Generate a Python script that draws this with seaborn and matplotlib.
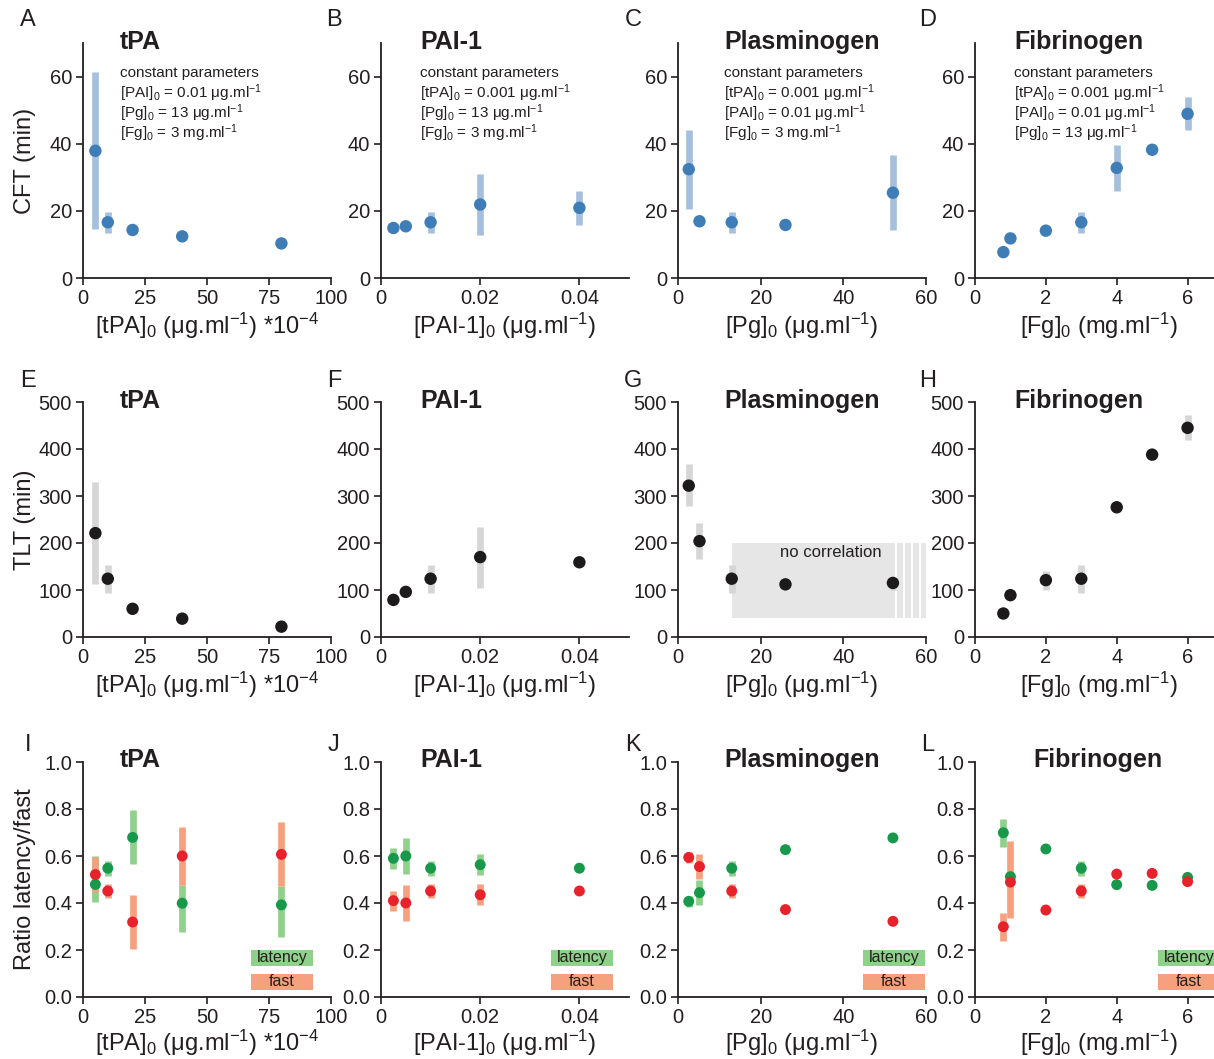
import numpy as np
import pandas as pd
import matplotlib
matplotlib.use("Agg")
import matplotlib.pyplot as plt
from matplotlib.patches import Rectangle
import seaborn as sns

nan = np.nan

# ---- concentrations on the x axes ----
tpa_conc = [5, 10, 20, 40, 80]                 # [tPA]0 in µg/ml *1e-4
pai_conc = [0.0025, 0.005, 0.01, 0.02, 0.04]   # [PAI-1]0 in µg/ml
pg_conc = [2.6, 5.2, 13, 26, 52]               # [Pg]0 in µg/ml
fg_conc = [0.8, 1, 2, 3, 4, 5, 6]              # [Fg]0 in mg/ml

# ---- clot formation time (min): mean, lower, upper ----
cft_tpa = [37.9, 16.6, 14.3, 12.4, 10.3]
cft_tpa_lo = [14.6, 13.4, nan, nan, nan]
cft_tpa_hi = [61.3, 19.8, nan, nan, nan]
cft_pai = [14.9, 15.4, 16.6, 21.9, 20.9]
cft_pai_lo = [nan, nan, 13.4, 12.8, 15.9]
cft_pai_hi = [nan, nan, 19.8, 31.0, 26.0]
cft_pg = [32.4, 16.9, 16.6, 15.8, 25.4]
cft_pg_lo = [20.7, nan, 13.4, nan, 14.3]
cft_pg_hi = [44.0, nan, 19.8, nan, 36.6]
cft_fg = [7.7, 11.8, 14.1, 16.6, 32.8, 38.2, 48.9]
cft_fg_lo = [nan, nan, nan, 13.4, 26.0, nan, 44.0]
cft_fg_hi = [nan, nan, nan, 19.8, 39.7, nan, 53.8]

# ---- total lysis time (min) ----
tlt_tpa = [221, 124, 60, 39, 22]
tlt_tpa_lo = [113, 94, nan, nan, nan]
tlt_tpa_hi = [330, 154, nan, nan, nan]
tlt_pai = [79, 96, 124, 170, 159]
tlt_pai_lo = [nan, nan, 94, 105, nan]
tlt_pai_hi = [nan, nan, 154, 235, nan]
tlt_pg = [322, 204, 124, 112, 115]
tlt_pg_lo = [279, 167, 94, nan, 100]
tlt_pg_hi = [368, 242, 154, nan, 126]
tlt_fg = [50, 89, 121, 124, 276, 388, 445]
tlt_fg_lo = [nan, nan, 101, 94, nan, nan, 420]
tlt_fg_hi = [nan, nan, 141, 154, nan, nan, 473]

# ---- ratio of latency phase / fast phase ----
lat_tpa = [0.479, 0.548, 0.679, 0.399, 0.392]
lat_tpa_lo = [0.403, 0.516, 0.565, 0.275, 0.257]
lat_tpa_hi = [0.599, 0.580, 0.797, 0.475, 0.471]
fast_tpa = [0.521, 0.451, 0.319, 0.600, 0.607]
fast_tpa_lo = [0.447, 0.420, 0.203, 0.475, 0.471]
fast_tpa_hi = [0.597, 0.482, 0.435, 0.725, 0.743]

lat_pai = [0.590, 0.600, 0.548, 0.563, 0.548]
lat_pai_lo = [0.546, 0.523, 0.516, 0.518, nan]
lat_pai_hi = [0.633, 0.675, 0.580, 0.609, nan]
fast_pai = [0.410, 0.400, 0.451, 0.435, 0.451]
fast_pai_lo = [0.366, 0.323, 0.420, 0.390, nan]
fast_pai_hi = [0.452, 0.475, 0.482, 0.482, nan]

lat_pg = [0.407, 0.444, 0.548, 0.627, 0.677]
lat_pg_lo = [0.383, 0.391, 0.516, nan, nan]
lat_pg_hi = [0.431, 0.496, 0.580, nan, nan]
fast_pg = [0.594, 0.555, 0.451, 0.372, 0.322]
fast_pg_lo = [0.570, 0.502, 0.420, nan, nan]
fast_pg_hi = [0.617, 0.609, 0.482, nan, nan]

lat_fg = [0.699, 0.512, 0.630, 0.548, 0.478, 0.475, 0.509]
lat_fg_lo = [0.640, 0.490, nan, 0.516, nan, nan, nan]
lat_fg_hi = [0.759, 0.530, nan, 0.580, nan, nan, nan]
fast_fg = [0.299, 0.489, 0.370, 0.451, 0.523, 0.526, 0.491]
fast_fg_lo = [0.240, 0.335, nan, 0.420, nan, nan, nan]
fast_fg_hi = [0.359, 0.662, nan, 0.482, nan, nan, nan]

# ---- labels ----
panel_titles = ["tPA", "PAI-1", "Plasminogen", "Fibrinogen"]
row_letters = [["A", "B", "C", "D"], ["E", "F", "G", "H"], ["I", "J", "K", "L"]]
row_ylabels = ["CFT (min)", "TLT (min)", "Ratio latency/fast"]
col_xlabels = [
    r"[tPA]$_0$ (μg.ml$^{-1}$) *10$^{-4}$",
    r"[PAI-1]$_0$ (μg.ml$^{-1}$)",
    r"[Pg]$_0$ (μg.ml$^{-1}$)",
    r"[Fg]$_0$ (mg.ml$^{-1}$)",
]
constant_params = [
    [r"[PAI]$_0$ = 0.01 μg.ml$^{-1}$", r"[Pg]$_0$ = 13 μg.ml$^{-1}$", r"[Fg]$_0$ = 3 mg.ml$^{-1}$"],
    [r"[tPA]$_0$ = 0.001 μg.ml$^{-1}$", r"[Pg]$_0$ = 13 μg.ml$^{-1}$", r"[Fg]$_0$ = 3 mg.ml$^{-1}$"],
    [r"[tPA]$_0$ = 0.001 μg.ml$^{-1}$", r"[PAI]$_0$ = 0.01 μg.ml$^{-1}$", r"[Fg]$_0$ = 3 mg.ml$^{-1}$"],
    [r"[tPA]$_0$ = 0.001 μg.ml$^{-1}$", r"[PAI]$_0$ = 0.01 μg.ml$^{-1}$", r"[Pg]$_0$ = 13 μg.ml$^{-1}$"],
]

x_ticks = [[0, 25, 50, 75, 100], [0, 0.02, 0.04], [0, 20, 40, 60], [0, 2, 4, 6]]
x_ticklabels = [["0", "25", "50", "75", "100"], ["0", "0.02", "0.04"],
                ["0", "20", "40", "60"], ["0", "2", "4", "6"]]
x_limits = [(0, 100), (0, 0.05), (0, 60), (0, 7)]
y_ticks = [[0, 20, 40, 60], [0, 100, 200, 300, 400, 500], [0, 0.2, 0.4, 0.6, 0.8, 1.0]]
y_ticklabels = [["0", "20", "40", "60"], ["0", "100", "200", "300", "400", "500"],
                ["0.0", "0.2", "0.4", "0.6", "0.8", "1.0"]]
y_limits = [(0, 70), (0, 500), (0, 1.0)]

# ---- style ----
sns.set_style("ticks")
INK = "#231f20"
plt.rcParams.update({
    "font.family": ["Liberation Sans", "DejaVu Sans"],
    "mathtext.fontset": "custom",
    "mathtext.rm": "Liberation Sans",
    "mathtext.it": "Liberation Sans:italic",
    "mathtext.bf": "Liberation Sans:bold",
    "mathtext.sf": "Liberation Sans",
    "axes.edgecolor": INK,
    "axes.linewidth": 1.3,
    "xtick.color": INK,
    "ytick.color": INK,
    "text.color": INK,
    "axes.labelcolor": INK,
})

BLUE, BLUE_BAR = "#3e7db6", "#a6bfdd"
BLACK, GREY_BAR = "#1c1a1b", "#d6d6d6"
GREEN, GREEN_BAR = "#17984a", "#8fd08b"
RED, RED_BAR = "#e8222b", "#f5a07e"

W, H = 1214, 1059
fig = plt.figure(figsize=(W / 100, H / 100), dpi=100)

col_left = [83, 381, 678, 975]
row_base = [278, 637, 997]
AX_W, AX_H = 248, 235


def add_series(ax, x, y, lo, hi, color, bar_color, size):
    x = np.asarray(x, float)
    lo = np.asarray(lo, float)
    hi = np.asarray(hi, float)
    m = ~np.isnan(lo)
    ax.vlines(x[m], lo[m], hi[m], colors=bar_color, lw=4.8, zorder=2)
    df = pd.DataFrame({"conc": x, "value": y})
    sns.scatterplot(data=df, x="conc", y="value", color=color, s=size,
                    linewidth=0, edgecolor="none", ax=ax, zorder=4)


concs = [tpa_conc, pai_conc, pg_conc, fg_conc]
cft_rows = [(cft_tpa, cft_tpa_lo, cft_tpa_hi), (cft_pai, cft_pai_lo, cft_pai_hi),
            (cft_pg, cft_pg_lo, cft_pg_hi), (cft_fg, cft_fg_lo, cft_fg_hi)]
tlt_rows = [(tlt_tpa, tlt_tpa_lo, tlt_tpa_hi), (tlt_pai, tlt_pai_lo, tlt_pai_hi),
            (tlt_pg, tlt_pg_lo, tlt_pg_hi), (tlt_fg, tlt_fg_lo, tlt_fg_hi)]
lat_rows = [(lat_tpa, lat_tpa_lo, lat_tpa_hi), (lat_pai, lat_pai_lo, lat_pai_hi),
            (lat_pg, lat_pg_lo, lat_pg_hi), (lat_fg, lat_fg_lo, lat_fg_hi)]
fast_rows = [(fast_tpa, fast_tpa_lo, fast_tpa_hi), (fast_pai, fast_pai_lo, fast_pai_hi),
             (fast_pg, fast_pg_lo, fast_pg_hi), (fast_fg, fast_fg_lo, fast_fg_hi)]

title_left = [[120, 420, 724, 1014], [120, 420, 724, 1014], [120, 420, 724, 1033]]
title_y = [42, 401, 760]
letter_x = [28, 334, 633, 928]
letter_y = [20, 381, 745]
legend_x = [0.677, 0.685, 0.746, 0.738]

for r in range(3):
    for c in range(4):
        ax = fig.add_axes([col_left[c] / W, 1 - row_base[r] / H, AX_W / W, AX_H / H])
        x = concs[c]
        if r == 0:
            add_series(ax, x, *cft_rows[c], BLUE, BLUE_BAR, 80)
        elif r == 1:
            if c == 2:
                # region without correlation, with hatched continuation
                ax.add_patch(Rectangle((13, 40), 52.4 - 13, 160, facecolor="#e6e6e6",
                                       edgecolor="none", zorder=0))
                for s0 in [52.9, 54.85, 56.8, 58.75]:
                    ax.add_patch(Rectangle((s0, 40), 1.45, 160, facecolor="#e6e6e6",
                                           edgecolor="none", zorder=0))
                ax.text(36.9, 179, "no correlation", ha="center", va="center",
                        fontsize=12, color=INK)
            add_series(ax, x, *tlt_rows[c], BLACK, GREY_BAR, 80)
        else:
            add_series(ax, x, *lat_rows[c], GREEN, GREEN_BAR, 62)
            add_series(ax, x, *fast_rows[c], RED, RED_BAR, 62)
            # colour key
            for (y0, label, fc) in [(0.132, "latency", GREEN_BAR), (0.030, "fast", RED_BAR)]:
                ax.add_patch(Rectangle((legend_x[c], y0), 0.25, 0.069, transform=ax.transAxes,
                                       facecolor=fc, edgecolor="none", clip_on=False, zorder=1))
                ax.text(legend_x[c] + 0.125, y0 + 0.036, label, transform=ax.transAxes,
                        ha="center", va="center", fontsize=11.5, color=INK)

        ax.set_xlim(*x_limits[c])
        ax.set_ylim(*y_limits[r])
        ax.set_xticks(x_ticks[c])
        ax.set_xticklabels(x_ticklabels[c])
        ax.set_yticks(y_ticks[r])
        ax.set_yticklabels(y_ticklabels[r])
        ax.tick_params(axis="both", direction="out", length=5, width=1.2,
                       labelsize=14.5, pad=3)
        for side in ["top", "right"]:
            ax.spines[side].set_visible(False)
        ax.set_xlabel(col_xlabels[c], fontsize=17)
        ax.xaxis.label.set_va("center")
        ax.xaxis.set_label_coords(0.5, -0.205 if r < 2 else -0.195)
        if c == 0:
            ax.set_ylabel(row_ylabels[r], fontsize=17)
            ax.yaxis.label.set_va("center")
            ax.yaxis.set_label_coords(-0.234, 0.5)
        else:
            ax.set_ylabel("")

        fig.text(title_left[r][c] / W, 1 - title_y[r] / H, panel_titles[c],
                 fontsize=18, fontweight="bold", ha="left", va="center")
        fig.text(letter_x[c] / W, 1 - letter_y[r] / H, row_letters[r][c],
                 fontsize=17, ha="center", va="center")
        if r == 0:
            lines = ["constant parameters"] + constant_params[c]
            for i, line in enumerate(lines):
                fig.text(title_left[r][c] / W, 1 - (73 + 20 * i) / H, line,
                         fontsize=11, ha="left", va="center")

fig.savefig("out.png", dpi=100)
